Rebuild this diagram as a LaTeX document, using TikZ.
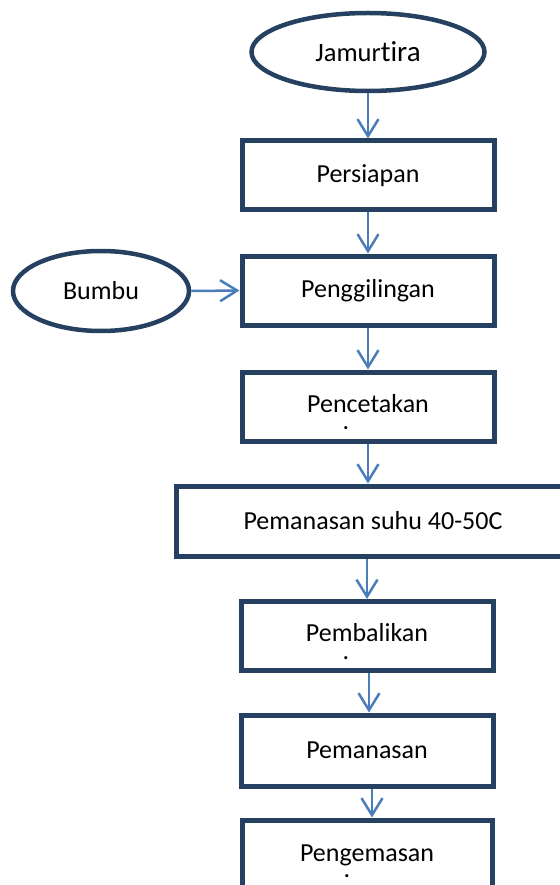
\documentclass[tikz,border=0pt]{standalone}
\usepackage{fontspec}
\setmainfont{Carlito}[Ligatures=NoCommon]
\usetikzlibrary{arrows.meta,shapes.geometric}
\definecolor{boxc}{RGB}{38,64,97}
\definecolor{arrc}{RGB}{74,126,187}
\begin{document}
\begin{tikzpicture}[x=1pt,y=-1pt,
  txt/.style={font=\fontsize{26}{30}\selectfont},
  stepbox/.style={draw=boxc,line width=5pt,rectangle,inner sep=0pt,txt,minimum width=252pt,minimum height=69pt},
  oval/.style={draw=boxc,line width=4.5pt,ellipse,inner sep=0pt,txt},
  flow/.style={draw=arrc,line width=2.5pt,-{Straight Barb[length=17pt,width=21pt,line width=2.5pt]}},
  dotn/.style={txt,inner sep=0pt}]
\useasboundingbox (0,0) rectangle (559,885);
\node[oval,minimum width=233pt,minimum height=78pt] (jam) at (368,52) {{\fontsize{26.5}{30}\selectfont Jamur}{\fontsize{29}{32}\selectfont tira}};
\node[stepbox] (pers) at (368,175.5) {Persiapan};
\node[stepbox] (peng) at (368,290.5) {Penggilingan};
\node[oval,minimum width=176pt,minimum height=80pt] (bum) at (101,291) {Bumbu};
\node[stepbox] (penc) at (368,406.5) {\raisebox{7pt}{Pencetakan}};
\node[dotn] (pencd) at (346,428) {.};
\node[stepbox,minimum width=394pt,minimum height=70pt] (pems) at (373,521) {Pemanasan suhu 40-50C};
\node[stepbox] (pemb) at (367,636) {\raisebox{7pt}{Pembalikan}};
\node[dotn] (pembd) at (346,658) {.};
\node[stepbox,minimum height=71pt] (pemn) at (367,750.5) {Pemanasan};
\node[stepbox,minimum width=250pt,minimum height=80pt] (pgem) at (367,860) {\raisebox{14pt}{Pengemasan}};
\node[dotn] (pgemd) at (347,876) {.};
\draw[flow] (jam.south) -- (pers.north);
\draw[flow] (pers.south) -- (peng.north);
\draw[flow] (bum.east) -- (peng.west);
\draw[flow] (peng.south) -- (penc.north);
\draw[flow] (penc.south) -- (penc.south |- pems.north);
\draw[flow] ([xshift=2pt]pemb.south) -- ([xshift=2pt]pemn.north);
\draw[flow] (pems.south -| pemb.north) -- (pemb.north);
\draw[flow] ([xshift=5pt]pemn.south) -- ([xshift=5pt]pgem.north);
\end{tikzpicture}
\end{document}
